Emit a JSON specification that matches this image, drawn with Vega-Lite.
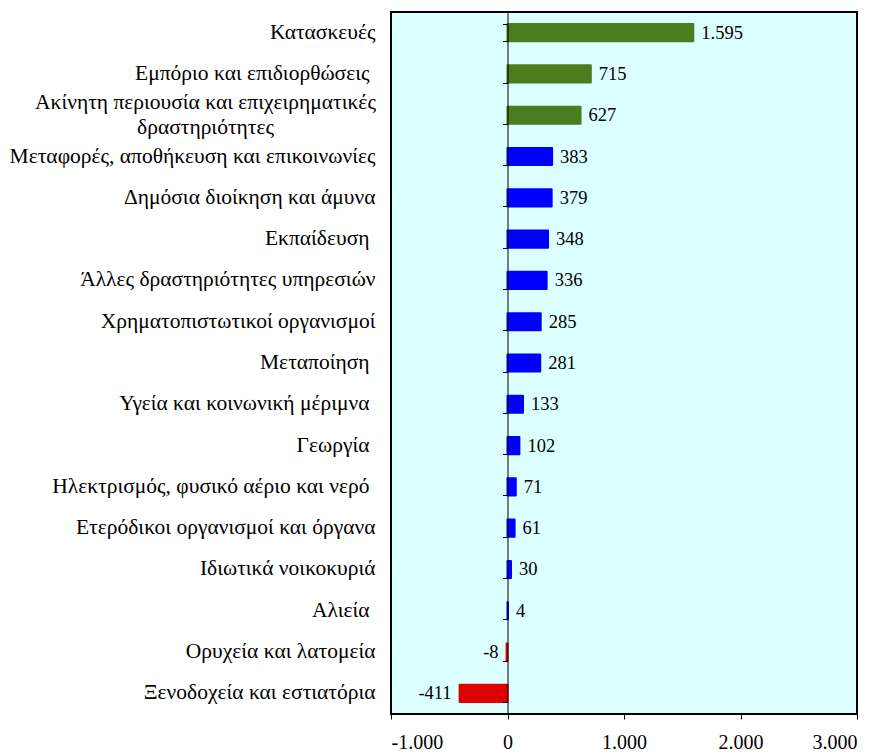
{
  "$schema": "https://vega.github.io/schema/vega-lite/v6.json",
  "width": 466,
  "height": 702,
  "autosize": "none",
  "padding": {"left": 391, "top": 12, "right": 25, "bottom": 41},
  "config": {
    "font": "'Liberation Serif', 'Times New Roman', serif",
    "locale": {"number": {"decimal": ",", "thousands": ".", "grouping": [3], "currency": ["", " €"], "minus": "-"}},
    "view": {"fill": "#dcffff", "stroke": "#000000", "strokeWidth": 2},
    "axis": {"labelFont": "'Liberation Serif', 'Times New Roman', serif", "labelColor": "#000000", "grid": false},
    "text": {"font": "'Liberation Serif', 'Times New Roman', serif"}
  },
  "data": {
    "values": [
      {"sector": "Κατασκευές", "value": 1595, "group": "top"},
      {"sector": "Εμπόριο και επιδιορθώσεις ", "value": 715, "group": "top"},
      {"sector": "Ακίνητη περιουσία και επιχειρηματικές δραστηριότητες", "value": 627, "group": "top"},
      {"sector": "Μεταφορές, αποθήκευση και επικοινωνίες", "value": 383, "group": "other"},
      {"sector": "Δημόσια διοίκηση και άμυνα", "value": 379, "group": "other"},
      {"sector": "Εκπαίδευση ", "value": 348, "group": "other"},
      {"sector": "Άλλες δραστηριότητες υπηρεσιών", "value": 336, "group": "other"},
      {"sector": "Χρηματοπιστωτικοί οργανισμοί", "value": 285, "group": "other"},
      {"sector": "Μεταποίηση ", "value": 281, "group": "other"},
      {"sector": "Υγεία και κοινωνική μέριμνα ", "value": 133, "group": "other"},
      {"sector": "Γεωργία ", "value": 102, "group": "other"},
      {"sector": "Ηλεκτρισμός, φυσικό αέριο και νερό ", "value": 71, "group": "other"},
      {"sector": "Ετερόδικοι οργανισμοί και όργανα", "value": 61, "group": "other"},
      {"sector": "Ιδιωτικά νοικοκυριά", "value": 30, "group": "other"},
      {"sector": "Αλιεία ", "value": 4, "group": "other"},
      {"sector": "Ορυχεία και λατομεία", "value": -8, "group": "negative"},
      {"sector": "Ξενοδοχεία και εστιατόρια", "value": -411, "group": "negative"}
    ]
  },
  "resolve": {"axis": {"y": "independent"}},
  "layer": [
    {
      "mark": {"type": "bar", "strokeWidth": 2, "strokeJoin": "round"},
      "encoding": {
        "y": {
          "field": "sector", "type": "nominal", "sort": null,
          "scale": {"paddingInner": 0.585, "paddingOuter": 0.2925},
          "axis": {
            "orient": "left", "title": null, "domain": false, "ticks": false,
            "labelFontSize": 21.5, "labelLimit": 400, "labelLineHeight": 25,
            "labelPadding": {"condition": [
              {"test": "length(datum.value) > 45", "value": 186},
              {"test": "substring(datum.value, length(datum.value) - 1) == ' '", "value": 22}
            ], "value": 16},
            "labelAlign": {"condition": {"test": "length(datum.value) > 45", "value": "center"}, "value": "right"},
            "labelOffset": {"condition": {"test": "length(datum.value) > 45", "value": -12.5}, "value": 0},
            "labelExpr": "length(datum.value) > 45 ? ['Ακίνητη περιουσία και επιχειρηματικές', 'δραστηριότητες'] : datum.value"
          }
        },
        "x": {
          "field": "value", "type": "quantitative",
          "scale": {"domain": [-1000, 3000], "nice": false, "zero": false},
          "axis": {
            "orient": "bottom", "title": null, "values": [-1000, 0, 1000, 2000, 3000],
            "format": ",d", "domain": false, "ticks": true, "tickSize": 5, "tickColor": "#000000",
            "labelFontSize": 20, "labelPadding": 13, "grid": false
          }
        },
        "color": {
          "field": "group", "type": "nominal",
          "scale": {"domain": ["top", "other", "negative"], "range": ["#4b7d1e", "#0000ff", "#dd0000"]},
          "legend": null
        },
        "stroke": {
          "field": "group", "type": "nominal",
          "scale": {"domain": ["top", "other", "negative"], "range": ["#4b7d1e", "#0000ff", "#dd0000"]},
          "legend": null
        }
      }
    },
    {
      "transform": [{"filter": "datum.value >= 0"}],
      "mark": {"type": "text", "align": "left", "baseline": "middle", "dx": 8, "fontSize": 18.5, "color": "#000000"},
      "encoding": {
        "y": {
          "field": "sector", "type": "nominal", "sort": null,
          "axis": {
            "orient": "left", "offset": -116.5, "labels": false, "ticks": true, "tickBand": "extent",
            "tickSize": 5, "tickColor": "#000000", "domain": true, "domainColor": "#000000",
            "domainWidth": 1, "title": null, "zindex": 1
          }
        },
        "x": {"field": "value", "type": "quantitative"},
        "text": {"field": "value", "type": "quantitative", "format": ",d"}
      }
    },
    {
      "transform": [{"filter": "datum.value < 0"}],
      "mark": {"type": "text", "align": "right", "baseline": "middle", "dx": -8, "fontSize": 18.5, "color": "#000000"},
      "encoding": {
        "y": {"field": "sector", "type": "nominal", "sort": null, "axis": null},
        "x": {"field": "value", "type": "quantitative"},
        "text": {"field": "value", "type": "quantitative", "format": ",d"}
      }
    }
  ]
}
